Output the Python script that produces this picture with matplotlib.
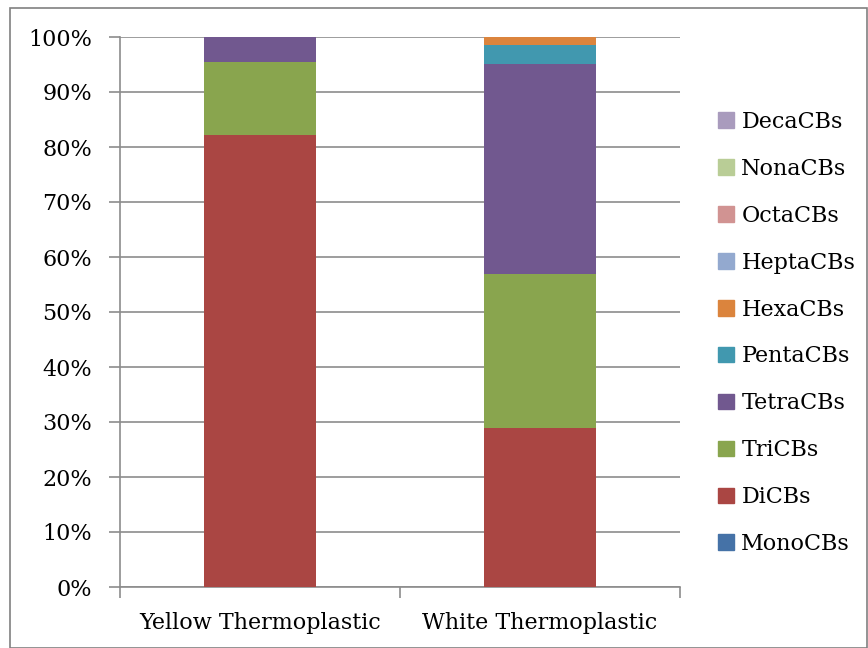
import matplotlib
matplotlib.use("Agg")
import matplotlib.pyplot as plt
from matplotlib.patches import Rectangle, Patch
import numpy as np

categories = ["Yellow Thermoplastic", "White Thermoplastic"]
series = ["MonoCBs", "DiCBs", "TriCBs", "TetraCBs", "PentaCBs", "HexaCBs",
          "HeptaCBs", "OctaCBs", "NonaCBs", "DecaCBs"]
mono = [0.0, 0.0]
di = [82.2, 29.0]
tri = [13.3, 27.9]
tetra = [4.5, 38.2]
penta = [0.0, 3.4]
hexa = [0.0, 1.5]
hepta = [0.0, 0.0]
octa = [0.0, 0.0]
nona = [0.0, 0.0]
deca = [0.0, 0.0]
values = [mono, di, tri, tetra, penta, hexa, hepta, octa, nona, deca]
colors = ["#4572A7", "#AA4643", "#89A54E", "#71588F", "#4198AF", "#DB843D",
          "#93A9CF", "#D19392", "#B9CD96", "#A99BBD"]

plt.rcParams['font.family'] = ['DejaVu Serif']

fig = plt.figure(figsize=(8.68, 6.48), dpi=100)
fig.patches.append(Rectangle((10/868, 0), 857/868, 640/648, transform=fig.transFigure,
                             fill=False, edgecolor="#808080", linewidth=1.2))
ax = fig.add_axes([120/868, 1-587/648, 560/868, 550/648])

x = np.arange(len(categories))
bottom = np.zeros(len(categories))
for name, vals, c in zip(series, values, colors):
    v = np.array(vals)
    ax.bar(x, v, 0.4, bottom=bottom, color=c, label=name, zorder=3)
    bottom += v

fs = 16
ax.set_xlim(-0.5, 1.5)
ax.set_ylim(0, 100)
ax.set_yticks(np.arange(0, 101, 10))
ax.set_yticklabels([f"{t}%" for t in range(0, 101, 10)], fontsize=fs)
ax.yaxis.grid(True, color="#8c8c8c", linewidth=1.2, zorder=0)
ax.set_xticks(x)
ax.set_xticklabels(categories, fontsize=fs)
ax.set_xticks([-0.5, 0.5, 1.5], minor=True)
ax.tick_params(axis='x', which='major', length=0, pad=18)
ax.tick_params(axis='x', which='minor', length=8, color="#8c8c8c", width=1.2)
ax.tick_params(axis='y', length=8, color="#8c8c8c", width=1.2, pad=12)
for s in ["top", "right"]:
    ax.spines[s].set_visible(False)
for s in ["left", "bottom"]:
    ax.spines[s].set_color("#8c8c8c")
    ax.spines[s].set_linewidth(1.2)

handles = [Patch(color=c, label=n) for n, c in zip(series, colors)][::-1]
fig.legend(handles=handles, loc="center left", bbox_to_anchor=(698/868, 1-333/648),
           frameon=False, fontsize=fs, handlelength=0.7, handleheight=0.7,
           handletextpad=0.35, labelspacing=1.12)

fig.savefig("out.png", dpi=100)
